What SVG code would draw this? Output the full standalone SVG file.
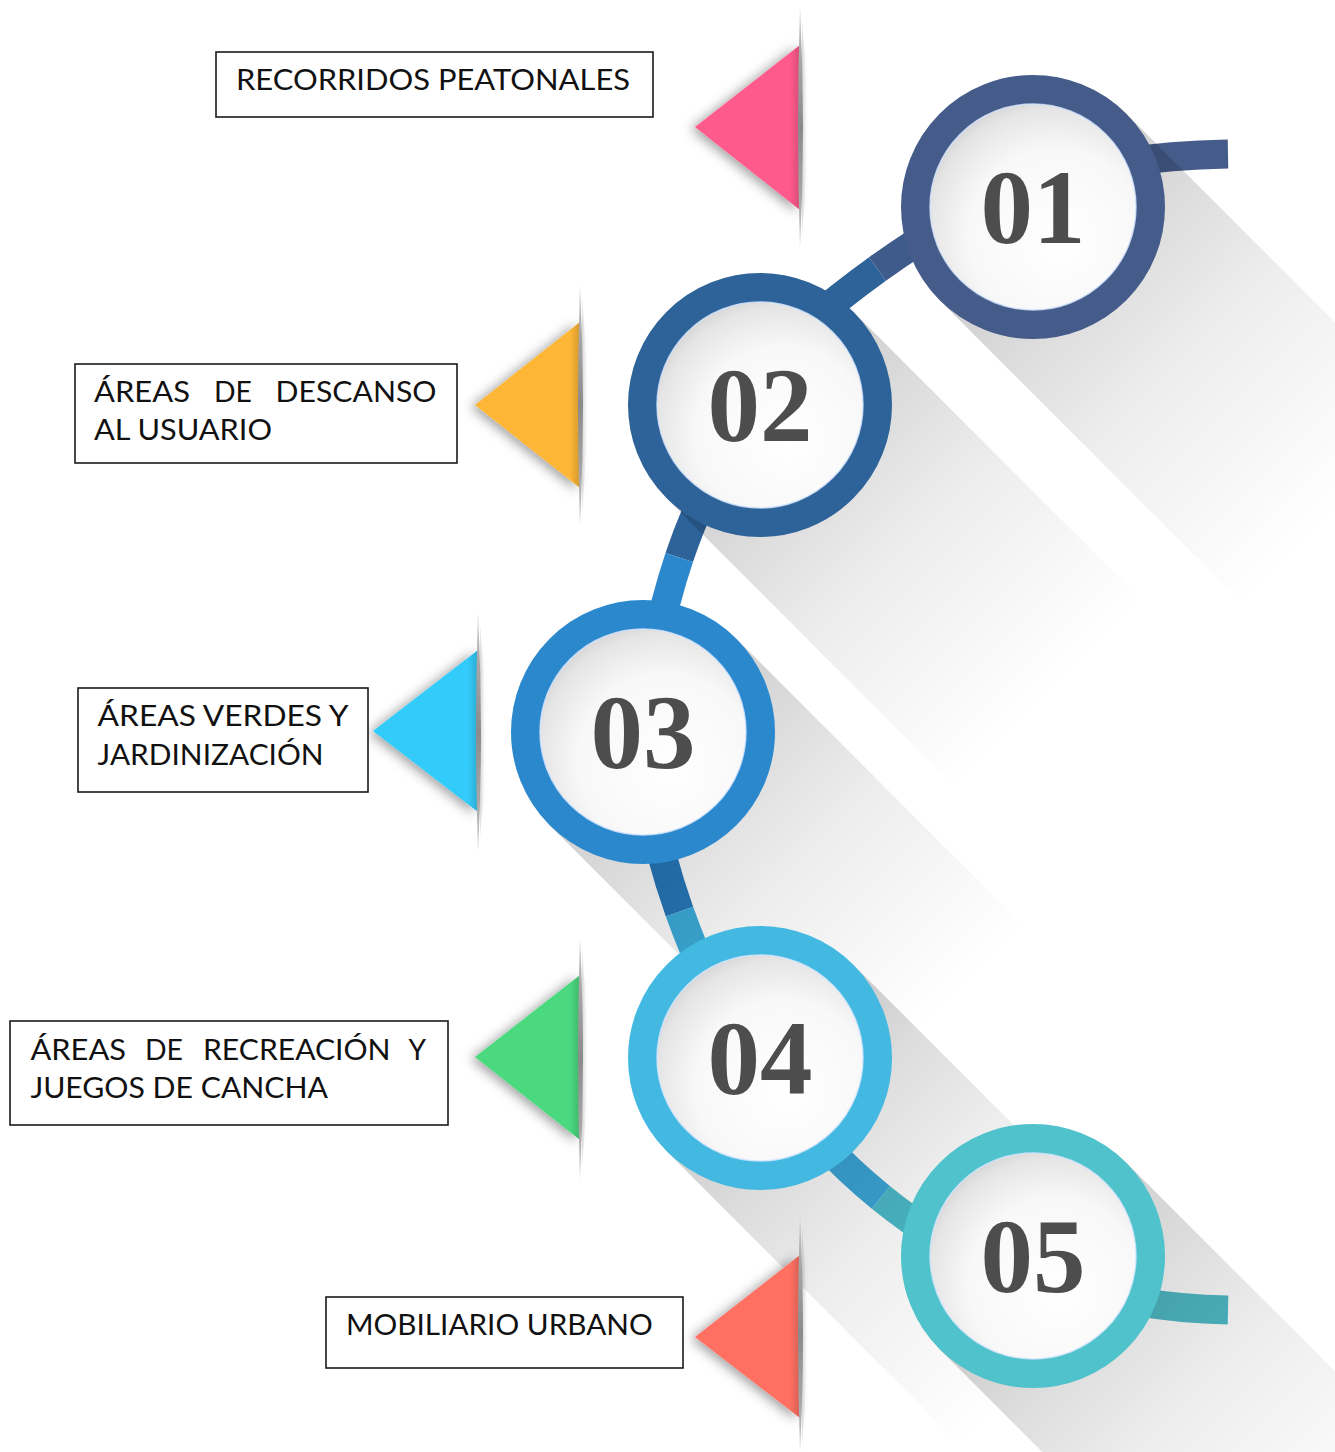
<svg xmlns="http://www.w3.org/2000/svg" width="1335" height="1452" viewBox="0 0 1335 1452">
<style>
.box{fill:#fff;stroke:#1a1a1a;stroke-width:1.6}
.lbl{font-family:"Lato","Open Sans","Liberation Sans",sans-serif;font-size:28px;fill:#111}
.num{font-family:"Liberation Serif","Times New Roman",serif;font-weight:bold;font-size:105px;fill:#4d4d4d;text-anchor:middle}
.con{fill:none;stroke-width:29;stroke-linecap:butt}
.ring{fill:url(#disc);stroke-width:29}
.rim{fill:none;stroke:#d6e6ff;stroke-width:1.5;opacity:.8}
.tri{filter:url(#tsh)}
.fold{fill:url(#foldG)}
.side{fill:url(#sideG)}
.edge{fill:url(#edgeG)}
.lshadow{fill:url(#longG)}
</style>
<defs>
<radialGradient id="disc" cx="0.58" cy="0.6" r="0.62" fx="0.62" fy="0.66">
<stop offset="0" stop-color="#ffffff"/>
<stop offset="0.6" stop-color="#f8f8f8"/>
<stop offset="0.85" stop-color="#e5e5e5"/>
<stop offset="1" stop-color="#c9c9c9"/>
</radialGradient>
<linearGradient id="longG" x1="0" y1="0" x2="1" y2="0">
<stop offset="0" stop-color="#000" stop-opacity="0.19"/>
<stop offset="0.5" stop-color="#000" stop-opacity="0.07"/>
<stop offset="1" stop-color="#000" stop-opacity="0"/>
</linearGradient>
<linearGradient id="foldG" x1="0" y1="0" x2="0" y2="1">
<stop offset="0" stop-color="#d0d0d0"/>
<stop offset="0.2" stop-color="#a8a8a8"/>
<stop offset="0.5" stop-color="#8a8a8a"/>
<stop offset="0.8" stop-color="#a8a8a8"/>
<stop offset="1" stop-color="#d0d0d0"/>
</linearGradient>
<linearGradient id="sideG" x1="0" y1="0" x2="1" y2="0">
<stop offset="0" stop-color="#000" stop-opacity="0.12"/>
<stop offset="1" stop-color="#000" stop-opacity="0"/>
</linearGradient>
<linearGradient id="edgeG" x1="0" y1="0" x2="1" y2="0">
<stop offset="0" stop-color="#000" stop-opacity="0"/>
<stop offset="1" stop-color="#000" stop-opacity="0.16"/>
</linearGradient>
<filter id="tsh" x="-50%" y="-30%" width="200%" height="160%">
<feDropShadow dx="-4" dy="2" stdDeviation="6" flood-color="#000" flood-opacity="0.38"/>
</filter>
</defs>
<rect width="1335" height="1452" fill="#fff"/>

<g id="connectors">
<path class="con" stroke="#455C8A" d="M1120,163 Q1170,155 1228,154"/>
<path class="con" stroke="#3F5B8C" d="M950,222 Q915,242 877.5,269"/>
<path class="con" stroke="#2D6399" d="M877.5,269 Q840,296 800,330"/>
<path class="con" stroke="#2D6399" d="M712,480 Q693.5,515 679.25,557.5"/>
<path class="con" stroke="#2B88CC" d="M679.25,557.5 Q665,600 655,650"/>
<path class="con" stroke="#2778BA" d="M650,800 Q659,854 679.5,911.6"/>
<path class="con" stroke="#3CACDA" d="M679.5,911.6 Q693.2,950 712,990"/>
<path class="con" stroke="#3BA6D8" d="M820,1140 Q847.5,1170.25 881,1197.5"/>
<path class="con" stroke="#4CB9C8" d="M881,1197.5 Q908.5,1219.75 940,1240"/>
<path class="con" stroke="#50BAC6" d="M1140,1302 Q1180,1309 1228,1310"/>
</g>

<g id="long-shadows">
<rect class="lshadow" transform="translate(1033,207) rotate(45)" x="0" y="-132" width="430" height="264"/>
<rect class="lshadow" transform="translate(760,405) rotate(45)" x="0" y="-132" width="410" height="264"/>
<rect class="lshadow" transform="translate(643,732) rotate(45)" x="0" y="-132" width="410" height="264"/>
<rect class="lshadow" transform="translate(760,1058) rotate(45)" x="0" y="-132" width="420" height="264"/>
<rect class="lshadow" transform="translate(1033,1256) rotate(45)" x="0" y="-132" width="430" height="264"/>
</g>

<g id="node-01">
<circle class="ring" cx="1033" cy="207" r="117.5" stroke="#455C8A"/>
<circle class="rim" cx="1033" cy="207" r="103"/>
<text class="num" x="1033" y="243">01</text>
</g>
<g id="node-02">
<circle class="ring" cx="760" cy="405" r="117.5" stroke="#2D6399"/>
<circle class="rim" cx="760" cy="405" r="103"/>
<text class="num" x="760" y="441">02</text>
</g>
<g id="node-03">
<circle class="ring" cx="643" cy="732" r="117.5" stroke="#2B88CC"/>
<circle class="rim" cx="643" cy="732" r="103"/>
<text class="num" x="643" y="768">03</text>
</g>
<g id="node-04">
<circle class="ring" cx="760" cy="1058" r="117.5" stroke="#43B9E2"/>
<circle class="rim" cx="760" cy="1058" r="103"/>
<text class="num" x="760" y="1094">04</text>
</g>
<g id="node-05">
<circle class="ring" cx="1033" cy="1256" r="117.5" stroke="#4FC2CC"/>
<circle class="rim" cx="1033" cy="1256" r="103"/>
<text class="num" x="1033" y="1292">05</text>
</g>

<g id="marker-1">
<path class="side" d="M802,20 Q812,127 802,235 Z"/>
<polygon class="tri" fill="#FF5A8C" points="800,45 695,127 800,210"/>
<polygon class="edge" points="790,53 800,45 800,210 790,202"/>
<path class="fold" d="M800,7 Q806,127 800,248 Q796,127 800,7 Z"/>
</g>
<g id="marker-2">
<path class="side" d="M582,298 Q592,405 582,512 Z"/>
<polygon class="tri" fill="#FDB634" points="580,322 475,405 580,488"/>
<polygon class="edge" points="570,330 580,322 580,488 570,480"/>
<path class="fold" d="M580,285 Q586,405 580,525 Q576,405 580,285 Z"/>
</g>
<g id="marker-3">
<path class="side" d="M480,625 Q490,731 480,838 Z"/>
<polygon class="tri" fill="#33CBFA" points="478,650 373,731 478,812"/>
<polygon class="edge" points="468,658 478,650 478,812 468,804"/>
<path class="fold" d="M478,612 Q484,731 478,852 Q474,731 478,612 Z"/>
</g>
<g id="marker-4">
<path class="side" d="M582,950 Q592,1057 582,1166 Z"/>
<polygon class="tri" fill="#4CD97F" points="580,975 475,1057 580,1140"/>
<polygon class="edge" points="570,983 580,975 580,1140 570,1132"/>
<path class="fold" d="M580,938 Q586,1057 580,1180 Q576,1057 580,938 Z"/>
</g>
<g id="marker-5">
<path class="side" d="M802,1228 Q812,1337 802,1445 Z"/>
<polygon class="tri" fill="#FF6F62" points="800,1255 695,1337 800,1418"/>
<polygon class="edge" points="790,1263 800,1255 800,1418 790,1410"/>
<path class="fold" d="M800,1215 Q806,1337 800,1452 Q796,1337 800,1215 Z"/>
</g>

<g id="label-1">
<rect class="box" x="216" y="52" width="437" height="65"/>
<text class="lbl" x="236" y="90" textLength="394" lengthAdjust="spacingAndGlyphs">RECORRIDOS PEATONALES</text>
</g>
<g id="label-2">
<rect class="box" x="75" y="364" width="382" height="99"/>
<text class="lbl" y="402"><tspan x="94" textLength="96" lengthAdjust="spacingAndGlyphs">ÁREAS</tspan><tspan x="214" textLength="38" lengthAdjust="spacingAndGlyphs">DE</tspan><tspan x="275.5" textLength="161" lengthAdjust="spacingAndGlyphs">DESCANSO</tspan></text>
<text class="lbl" x="94" y="440" textLength="178" lengthAdjust="spacingAndGlyphs">AL USUARIO</text>
</g>
<g id="label-3">
<rect class="box" x="78" y="688" width="290" height="104"/>
<text class="lbl" x="97.6" y="726" textLength="251" lengthAdjust="spacingAndGlyphs">ÁREAS VERDES Y</text>
<text class="lbl" x="97.6" y="765" textLength="226" lengthAdjust="spacingAndGlyphs">JARDINIZACIÓN</text>
</g>
<g id="label-4">
<rect class="box" x="10" y="1021" width="438" height="104"/>
<text class="lbl" y="1060"><tspan x="30.4" textLength="95.6" lengthAdjust="spacingAndGlyphs">ÁREAS</tspan><tspan x="145" textLength="38" lengthAdjust="spacingAndGlyphs">DE</tspan><tspan x="203" textLength="187.6" lengthAdjust="spacingAndGlyphs">RECREACIÓN</tspan><tspan x="408.5" textLength="17.5" lengthAdjust="spacingAndGlyphs">Y</tspan></text>
<text class="lbl" x="30.4" y="1098" textLength="297.6" lengthAdjust="spacingAndGlyphs">JUEGOS DE CANCHA</text>
</g>
<g id="label-5">
<rect class="box" x="326" y="1297" width="357" height="71"/>
<text class="lbl" x="346" y="1335" textLength="306.7" lengthAdjust="spacingAndGlyphs">MOBILIARIO URBANO</text>
</g>
</svg>
